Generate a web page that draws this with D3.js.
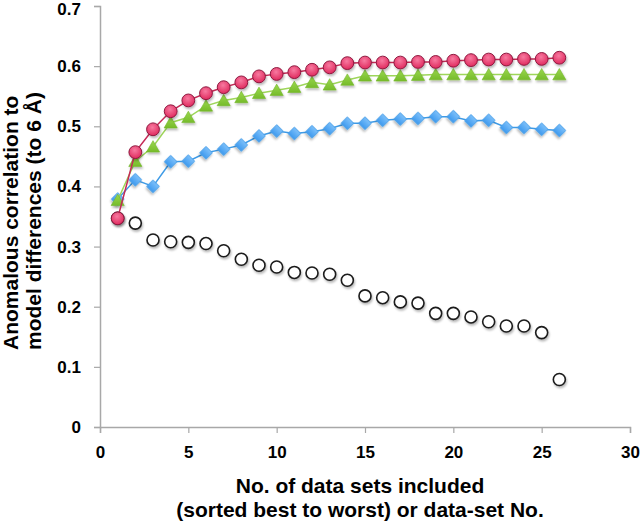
<!DOCTYPE html>
<html><head><meta charset="utf-8">
<script src="https://cdn.jsdelivr.net/npm/d3@7"></script>
<style>
html,body{margin:0;padding:0;background:#fff;}
svg{display:block;font-family:"Liberation Sans",Arial,sans-serif;font-weight:bold;}
</style></head>
<body><svg id="c" width="640" height="521"></svg>
<script>
const xValues = d3.range(1, 27);
const redSeries = [0.347,0.457,0.495,0.525,0.543,0.555,0.565,0.573,0.583,0.587,0.590,0.594,0.598,0.605,0.606,0.606,0.606,0.607,0.607,0.609,0.610,0.611,0.611,0.612,0.612,0.614];
const greenSeries = [0.377,0.442,0.466,0.506,0.515,0.534,0.543,0.548,0.555,0.560,0.565,0.573,0.569,0.577,0.584,0.584,0.584,0.585,0.586,0.586,0.586,0.586,0.586,0.586,0.586,0.586];
const blueSeries = [0.379,0.411,0.400,0.441,0.442,0.456,0.462,0.469,0.484,0.492,0.488,0.491,0.496,0.505,0.505,0.510,0.512,0.513,0.516,0.516,0.509,0.510,0.498,0.498,0.495,0.493];
const openSeries = [0.347,0.339,0.311,0.308,0.307,0.305,0.293,0.279,0.269,0.266,0.257,0.256,0.254,0.244,0.218,0.215,0.208,0.206,0.189,0.189,0.183,0.175,0.168,0.168,0.157,0.079];
const xTicks = [0,5,10,15,20,25,30];
const yTicks = [0,0.1,0.2,0.3,0.4,0.5,0.6,0.7];
const xTitle = ["No. of data sets included","(sorted best to worst) or data-set No."];
const yTitle = ["Anomalous correlation to","model differences (to 6 Å)"];

const svg = d3.select("#c");
const x = d3.scaleLinear().domain([0,30]).range([100,630]);
const y = d3.scaleLinear().domain([0,0.7]).range([427,6]);

const defs = svg.append("defs");
const f = defs.append("filter").attr("id","sh").attr("x","-50%").attr("y","-50%").attr("width","200%").attr("height","200%");
f.append("feDropShadow").attr("dx",1).attr("dy",2).attr("stdDeviation",1.3).attr("flood-color","#000").attr("flood-opacity",0.28);
const rg = defs.append("radialGradient").attr("id","rg").attr("cx","45%").attr("cy","35%").attr("r","65%");
rg.append("stop").attr("offset","0%").attr("stop-color","#f77aa0");
rg.append("stop").attr("offset","100%").attr("stop-color","#e02a5e");
const bg = defs.append("linearGradient").attr("id","bg").attr("x1","0").attr("y1","0").attr("x2","0").attr("y2","1");
bg.append("stop").attr("offset","0%").attr("stop-color","#7cc0fa");
bg.append("stop").attr("offset","100%").attr("stop-color","#3f9aef");
const gg = defs.append("linearGradient").attr("id","gg").attr("x1","0").attr("y1","0").attr("x2","0").attr("y2","1");
gg.append("stop").attr("offset","0%").attr("stop-color","#9ad84e");
gg.append("stop").attr("offset","100%").attr("stop-color","#76bb2a");

// axes
const axisColor = "#a8a8a8";
const gx = svg.append("g").attr("transform","translate(0,427)")
  .call(d3.axisBottom(x).tickValues(xTicks).tickSize(6).tickPadding(13).tickFormat(d3.format("d")));
const gy = svg.append("g").attr("transform","translate(100,0)")
  .call(d3.axisLeft(y).tickValues(yTicks).tickSize(6).tickPadding(13).tickFormat(d => d===0 ? "0" : d3.format(".1f")(d)));
[gx,gy].forEach(g => {
  g.select(".domain").attr("stroke",axisColor).attr("stroke-width",1.5);
  g.selectAll(".tick line").attr("stroke",axisColor).attr("stroke-width",1.2);
  g.selectAll(".tick text").attr("fill","#000").style("font-size","17px").style("font-weight","bold").style("font-family","'Liberation Sans',Arial,sans-serif");
});
gy.selectAll(".tick text").filter(d => d === 0.7).attr("dy","0.5em");

// titles
svg.append("g").selectAll("text").data(xTitle).join("text")
  .attr("x",360).attr("y",(d,i)=>493+i*24).attr("text-anchor","middle")
  .style("font-size","21px").attr("fill","#000").text(d=>d);
svg.append("g").selectAll("text").data(yTitle).join("text")
  .attr("transform",(d,i)=>`translate(${18+i*23},350) rotate(-90)`).attr("text-anchor","start")
  .style("font-size","21px").attr("fill","#000").text(d=>d);

const line = d3.line().x((d,i)=>x(xValues[i])).y(d=>y(d));
const plot = svg.append("g");

// open circles
plot.append("g").selectAll("circle").data(openSeries).join("circle")
  .attr("cx",(d,i)=>x(xValues[i])).attr("cy",d=>y(d)).attr("r",6)
  .attr("fill","#fff").attr("stroke","#1a1a1a").attr("stroke-width",1.6).attr("filter","url(#sh)");

// blue
plot.append("path").datum(blueSeries).attr("d",line).attr("fill","none").attr("stroke","#3f9be6").attr("stroke-width",1.5);
plot.append("g").selectAll("path").data(blueSeries).join("path")
  .attr("d",d3.symbol(d3.symbolSquare,80))
  .attr("transform",(d,i)=>`translate(${x(xValues[i])},${y(d)}) rotate(45)`)
  .attr("fill","url(#bg)").attr("stroke","#4a9fe8").attr("stroke-width",0.8).attr("filter","url(#sh)");

// green
plot.append("path").datum(greenSeries).attr("d",line).attr("fill","none").attr("stroke","#9ed65a").attr("stroke-width",1.5);
plot.append("g").selectAll("path").data(greenSeries).join("path")
  .attr("d",d3.symbol(d3.symbolTriangle,75))
  .attr("transform",(d,i)=>`translate(${x(xValues[i])},${y(d)+1.5})`)
  .attr("fill","url(#gg)").attr("stroke","#74b72c").attr("stroke-width",0.6).attr("filter","url(#sh)");

// red
plot.append("path").datum(redSeries).attr("d",line).attr("fill","none").attr("stroke","#c42a56").attr("stroke-width",1.5);
plot.append("g").selectAll("circle").data(redSeries).join("circle")
  .attr("cx",(d,i)=>x(xValues[i])).attr("cy",d=>y(d)).attr("r",6.4)
  .attr("fill","url(#rg)").attr("stroke","#8e1a40").attr("stroke-width",1).attr("filter","url(#sh)");
</script></body></html>
